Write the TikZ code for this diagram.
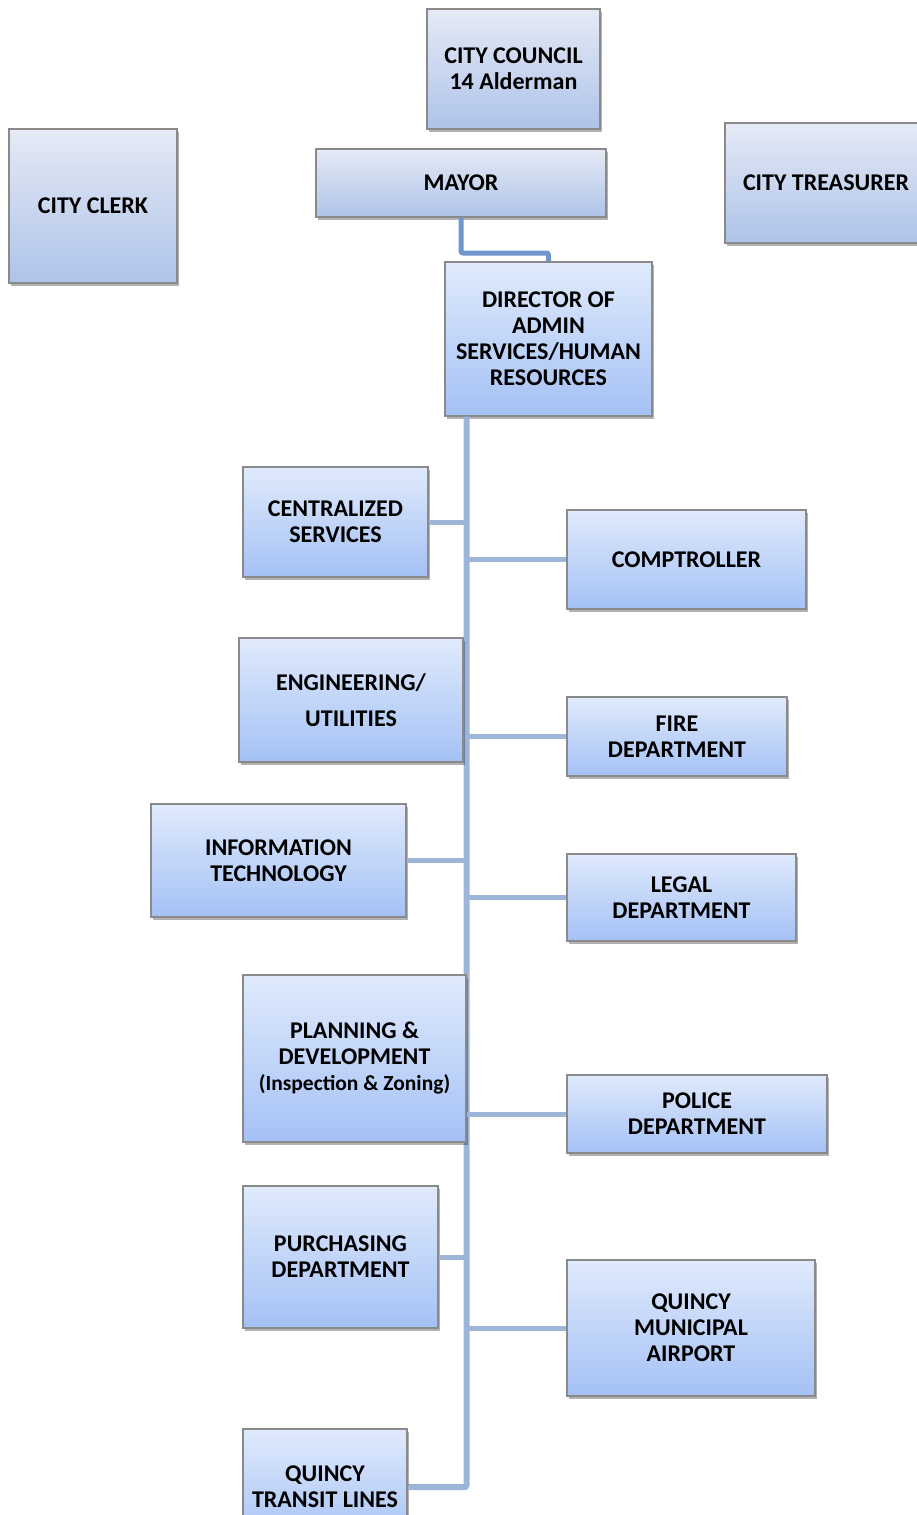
\documentclass[tikz,border=0pt]{standalone}
\usepackage{fontspec}
\setmainfont{Carlito}
\usetikzlibrary{shadows}
\definecolor{linec}{HTML}{9DB5D9}
\definecolor{linem}{HTML}{7096CB}
\definecolor{topA}{HTML}{E5EAF5}
\definecolor{botA}{HTML}{AEC3E9}
\definecolor{topB}{HTML}{E0EAFC}
\definecolor{botB}{HTML}{A4C1F5}
\definecolor{edgec}{HTML}{8A8A8A}
\tikzset{
  orgbox/.style={draw=edgec, line width=1.2pt, inner sep=0pt, align=center,
    top color=topB, bottom color=botB,
    font=\fontsize{24}{26}\selectfont\bfseries,
    drop shadow={shadow xshift=2pt, shadow yshift=-3pt, opacity=0.3, fill=black}},
  upperbox/.style={orgbox, top color=topA, bottom color=botA},
  conn/.style={draw=linec, line width=5pt},
  trunk/.style={draw=linec, line width=6pt},
  mconn/.style={draw=linem, line width=5pt},
}
\begin{document}
\begin{tikzpicture}[x=1pt,y=-1pt]
\useasboundingbox (0,0) rectangle (917,1515);
\coordinate (t) at (466.5,0);
% top row
\node[upperbox, minimum width=173, minimum height=120] (council) at (513.5,69) {CITY COUNCIL\\14 Alderman};
\node[upperbox, minimum width=290, minimum height=68] (mayor) at (461,183) {MAYOR};
\node[upperbox, minimum width=168, minimum height=154] (clerk) at (93,206) {CITY CLERK};
\node[upperbox, minimum width=202, minimum height=120] (treasurer) at (826,183) {CITY TREASURER};
% connectors
\coordinate (bend) at (548.5,253);
\coordinate (dnorth) at (548.5,262);
\draw[mconn, rounded corners=2pt] (mayor.south) |- (bend) -- (dnorth);
\node[orgbox, minimum width=207, minimum height=154] (director) at (548.5,339) {DIRECTOR OF\\ADMIN\\SERVICES/HUMAN\\RESOURCES};
\coordinate (dtop) at (director.south -| t);
\coordinate (tb) at (466.5,1487);
\coordinate (tend) at (407,1487);
\draw[trunk, rounded corners=2pt] (dtop) -- (tb) -- (tend);
% departments
\node[orgbox, minimum width=185, minimum height=110] (central) at (335.5,522) {CENTRALIZED\\SERVICES};
\node[orgbox, minimum width=239, minimum height=99] (comptroller) at (686.5,559.5) {COMPTROLLER};
\node[orgbox, minimum width=224, minimum height=124] (eng) at (351,700) {ENGINEERING/\\[10pt]UTILITIES};
\node[orgbox, minimum width=220, minimum height=79] (fire) at (677,736.5) {FIRE\\DEPARTMENT};
\node[orgbox, minimum width=255, minimum height=113] (it) at (278.5,860.5) {INFORMATION\\TECHNOLOGY};
\node[orgbox, minimum width=229, minimum height=87] (legal) at (681.5,897.5) {LEGAL\\DEPARTMENT};
\node[orgbox, minimum width=223, minimum height=167] (planning) at (354.5,1058.5) {PLANNING \&\\DEVELOPMENT\\{\fontsize{21.5}{26}\selectfont(Inspection \& Zoning)}};
\node[orgbox, minimum width=260, minimum height=78] (police) at (697,1114) {POLICE\\DEPARTMENT};
\node[orgbox, minimum width=195, minimum height=142] (purch) at (340.5,1257) {PURCHASING\\DEPARTMENT};
\node[orgbox, minimum width=248, minimum height=136] (airport) at (691,1328) {QUINCY\\MUNICIPAL\\AIRPORT};
\node[orgbox, minimum width=164, minimum height=116] (transit) at (325,1487) {QUINCY\\TRANSIT LINES};
% branch connectors
\draw[conn] (central.east) -- (central.east -| t);
\draw[conn] (comptroller.west) -- (comptroller.west -| t);
\draw[conn] (fire.west) -- (fire.west -| t);
\draw[conn] (it.east) -- (it.east -| t);
\draw[conn] (legal.west) -- (legal.west -| t);
\draw[conn] (police.west) -- (police.west -| t);
\draw[conn] (purch.east) -- (purch.east -| t);
\draw[conn] (airport.west) -- (airport.west -| t);
\draw[conn] (transit.east) -- (transit.east -| t);
\end{tikzpicture}
\end{document}
